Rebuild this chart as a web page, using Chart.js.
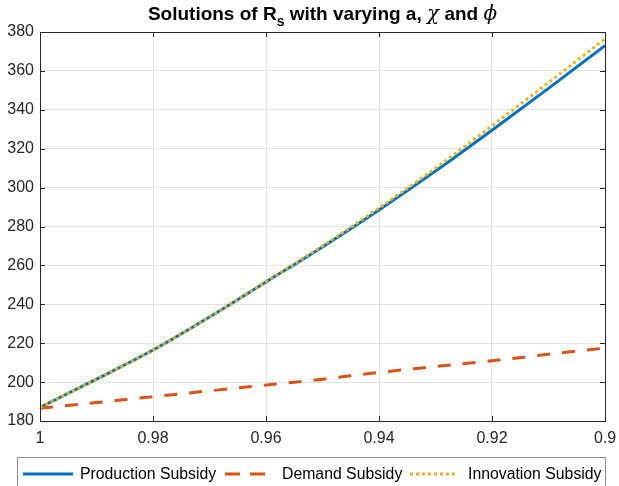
<!DOCTYPE html>
<html>
<head>
<meta charset="utf-8">
<script src="https://cdn.jsdelivr.net/npm/chart.js@4/dist/chart.umd.min.js"></script>
<style>
  body { margin: 0; background: #fff; }
  #wrap { position: relative; width: 619px; height: 486px; overflow: hidden; }
  #title {
    position: absolute; left: 13px; top: 1px; width: 619px; text-align: center; line-height: 20px;
    font: bold 19px "Liberation Sans", Arial, sans-serif; color: #000;
  }
  #title sub { font-size: 14px; vertical-align: -6px; line-height: 0; }
  #title i { font-family: "DejaVu Serif", "Liberation Serif", serif; font-weight: normal; font-size: 20px; }
</style>
</head>
<body>
<div id="wrap">
  <div id="title">Solutions of R<sub>s</sub> with varying a, <i>χ</i> and <i>ϕ</i></div>
  <canvas id="chart" width="619" height="486"></canvas>
</div>
<script>
// --- DATA ---
const xValues = [1, 0.99, 0.98, 0.97, 0.96, 0.95, 0.94, 0.93, 0.92, 0.91, 0.9];
const production = [187, 201.5, 216.5, 233.5, 251.5, 269.5, 288.5, 308.5, 329.5, 351, 373];
const demand = [186.5, 189.5, 192.5, 195.5, 198.5, 201.5, 205, 208, 211, 214.3, 217.5];
const innovation = [187, 201.5, 216.5, 233.5, 251.7, 270, 289.5, 310, 331.8, 354, 376.5];
const seriesNames = ["Production Subsidy", "Demand Subsidy", "Innovation Subsidy"];
const xTicks = [1, 0.98, 0.96, 0.94, 0.92, 0.9];

const toPoints = ys => xValues.map((x, i) => ({ x: x, y: ys[i] }));
const axisColor = "#262626";
const fontFamily = "'Liberation Sans', Arial, sans-serif";
const font = { family: fontFamily, size: 16 };

// legend slots: sample line start/end and text start (MATLAB style box under the axes)
const legendSlots = [[23, 73, 80], [225, 265, 282], [410, 457, 468]];

// Draws the box round the axes, inward ticks and the legend
const boxPlugin = {
  id: "box",
  afterDraw(chart) {
    const { ctx, chartArea: a, scales } = chart;
    ctx.save();
    ctx.strokeStyle = axisColor;
    ctx.lineWidth = 1;
    ctx.strokeRect(a.left + 0.5, a.top + 0.5, a.right - a.left, a.bottom - a.top);
    ctx.beginPath();
    scales.x.ticks.forEach(t => {
      const px = Math.round(scales.x.getPixelForValue(t.value)) + 0.5;
      ctx.moveTo(px, a.bottom); ctx.lineTo(px, a.bottom - 5);
      ctx.moveTo(px, a.top); ctx.lineTo(px, a.top + 5);
    });
    scales.y.ticks.forEach(t => {
      const py = Math.round(scales.y.getPixelForValue(t.value)) + 0.5;
      ctx.moveTo(a.left, py); ctx.lineTo(a.left + 5, py);
      ctx.moveTo(a.right, py); ctx.lineTo(a.right - 5, py);
    });
    ctx.stroke();

    // legend
    ctx.strokeStyle = "#8c8c8c";
    ctx.strokeRect(17.5, 457.5, 588, 40);
    const cy = 474;
    ctx.font = "15.8px " + fontFamily;
    ctx.textBaseline = "middle";
    ctx.fillStyle = "#000";
    chart.data.datasets.forEach((ds, i) => {
      const [x0, x1, tx] = legendSlots[i];
      ctx.save();
      ctx.strokeStyle = ds.borderColor;
      ctx.lineWidth = ds.borderWidth;
      ctx.setLineDash(ds.legendDash || []);
      ctx.beginPath();
      ctx.moveTo(x0, cy); ctx.lineTo(x1, cy);
      ctx.stroke();
      ctx.restore();
      ctx.fillText(ds.label, tx, cy + 1);
    });
    ctx.restore();
  }
};

new Chart(document.getElementById("chart"), {
  type: "line",
  data: {
    datasets: [
      { label: seriesNames[0], data: toPoints(production), borderColor: "#0072BD", borderWidth: 3, order: 2 },
      { label: seriesNames[1], data: toPoints(demand), borderColor: "#D95319", borderWidth: 3, borderDash: [13, 12], legendDash: [15, 10], order: 1 },
      { label: seriesNames[2], data: toPoints(innovation), borderColor: "#EDB120", borderWidth: 3, borderDash: [3, 3], legendDash: [3, 3], order: 0 }
    ]
  },
  options: {
    responsive: false,
    animation: false,
    events: [],
    layout: { padding: { top: 32, right: 14, left: 0, bottom: 35 } },
    elements: { point: { radius: 0 }, line: { tension: 0.4, cubicInterpolationMode: "monotone", fill: false } },
    plugins: {
      title: { display: false },
      tooltip: { enabled: false },
      legend: { display: false }
    },
    scales: {
      x: {
        type: "linear",
        reverse: true,
        min: 0.9,
        max: 1,
        afterBuildTicks: axis => { axis.ticks = xTicks.map(v => ({ value: v })); },
        afterFit: axis => { axis.height = 30; axis.paddingLeft = 0; axis.paddingRight = 0; },
        border: { color: axisColor },
        grid: { color: "#e3e3e3", drawTicks: false },
        ticks: { color: axisColor, font: font, padding: 8, maxRotation: 0, callback: v => String(v) }
      },
      y: {
        min: 180,
        max: 380,
        afterFit: axis => { axis.width = 40; axis.paddingTop = 0; axis.paddingBottom = 0; },
        border: { color: axisColor },
        grid: { color: "#e3e3e3", drawTicks: false },
        ticks: { color: axisColor, font: font, padding: 6, stepSize: 20 }
      }
    }
  },
  plugins: [boxPlugin]
});
</script>
</body>
</html>
